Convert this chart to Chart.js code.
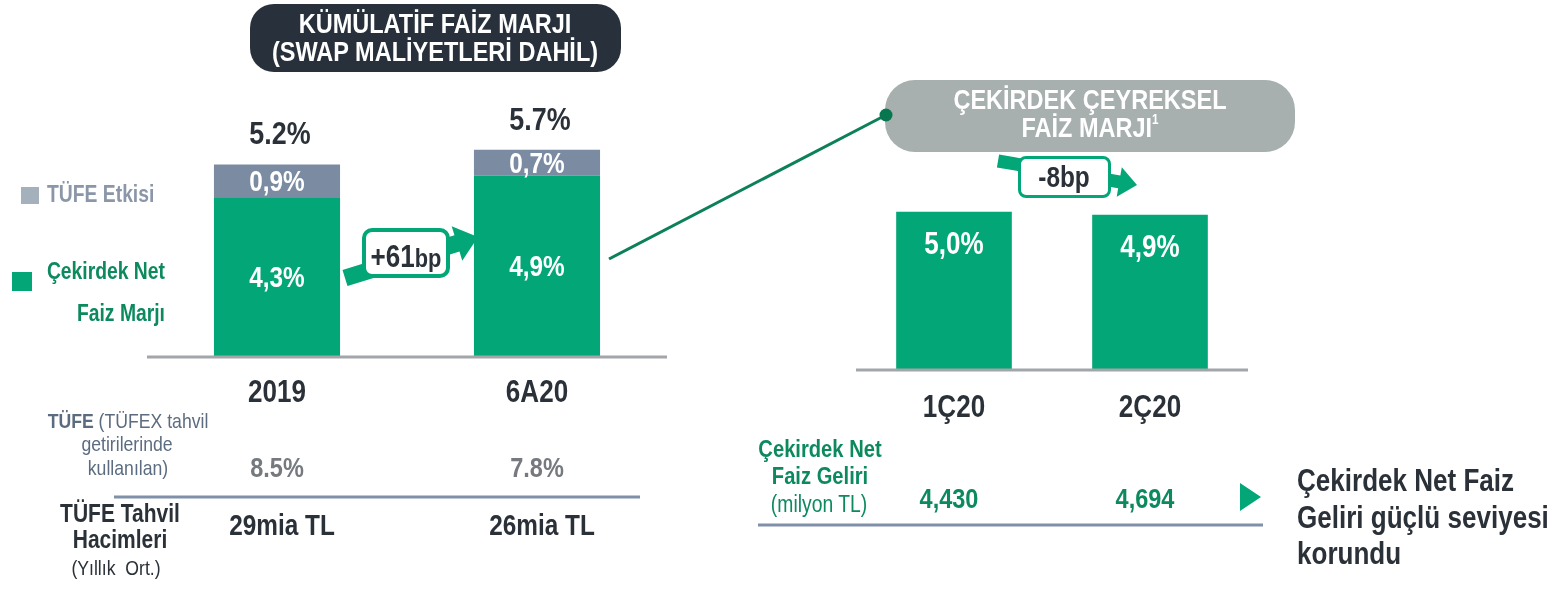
<!DOCTYPE html>
<html lang="tr">
<head>
<meta charset="utf-8">
<script src="https://cdn.jsdelivr.net/npm/chart.js@4.4.1/dist/chart.umd.min.js"></script>
<style>
  html, body { margin: 0; padding: 0; background: #fff; }
  #page { position: relative; width: 1568px; height: 592px; overflow: hidden; }
  #page canvas, #page svg { position: absolute; left: 0; top: 0; }
  .box { position: absolute; box-sizing: border-box; }
  .tx { position: absolute; white-space: nowrap; line-height: 1; font-weight: bold;
        font-family: "Liberation Sans", Arial, sans-serif; }
  .mid { transform-origin: 50% 50%; transform: translate(-50%, -50%) scaleX(0.84); }
  .lft { transform-origin: 0 50%; transform: translate(0, -50%) scaleX(0.84); }
  .rgt { transform-origin: 100% 50%; transform: translate(-100%, -50%) scaleX(0.84); }
  sup { font-size: 0.5em; vertical-align: 0.9em; }
</style>
</head>
<body>
<div id="page">
  <canvas id="nimChart" width="1568" height="592"></canvas>
  <canvas id="quarterChart" width="1568" height="592"></canvas>
</div>
<script>
// kümülatif faiz marjı (swap maliyetleri dahil)
const leftCats = ['2019', '6A20'];
const coreNim = [4.3, 4.9];
const cpiEffect = [0.9, 0.7];
const totalNim = [5.2, 5.7];
const cpiRate = [8.5, 7.8];
const cpiBondVol = [29, 26];

// çekirdek çeyreksel faiz marjı
const rightCats = ['1Ç20', '2Ç20'];
const quarterNim = [5.0, 4.9];
const coreNii = [4430, 4694];

const GREEN = '#02a677';
const SLATE = '#7b8ca2';
const AXIS = '#a2a5aa';
const DARK = '#2b3138';
const GREEN_TXT = '#0c8a5e';
const FONT = '"Liberation Sans", Arial, sans-serif';
const SQUEEZE = 0.84;

const trPct = v => v.toFixed(1).replace('.', ',') + '%';
const dotPct = v => v.toFixed(1) + '%';

function say(ctx, text, x, y, size, color) {
    ctx.save();
    ctx.translate(x, y);
    ctx.scale(SQUEEZE, 1);
    ctx.font = `bold ${size}px ${FONT}`;
    ctx.fillStyle = color;
    ctx.textAlign = 'center';
    ctx.textBaseline = 'middle';
    ctx.fillText(text, 0, 0);
    ctx.restore();
}

function baseline(chart) {
    const ctx = chart.ctx, area = chart.chartArea;
    const y0 = chart.scales.y.getPixelForValue(0);
    ctx.save();
    ctx.strokeStyle = AXIS;
    ctx.lineWidth = 3;
    ctx.beginPath();
    ctx.moveTo(area.left, y0);
    ctx.lineTo(area.right, y0);
    ctx.stroke();
    ctx.restore();
    return y0;
}

const nimLabels = {
    id: 'nimLabels',
    afterDatasetsDraw(chart) {
        const ctx = chart.ctx, x = chart.scales.x, y = chart.scales.y;
        const y0 = baseline(chart);
        chart.data.datasets.forEach((ds, i) => {
            chart.getDatasetMeta(i).data.forEach((bar, j) => {
                say(ctx, trPct(ds.data[j]), bar.x, (bar.y + bar.base) / 2 + 2, 29, '#fff');
            });
        });
        leftCats.forEach((c, j) => {
            const cx = x.getPixelForValue(j);
            say(ctx, dotPct(totalNim[j]), cx + 3, y.getPixelForValue(coreNim[j] + cpiEffect[j]) - 29, 32, DARK);
            say(ctx, c, cx, y0 + 36, 31, DARK);
            say(ctx, dotPct(cpiRate[j]), cx, y0 + 112, 28, '#767a7f');
            say(ctx, cpiBondVol[j] + 'mia TL', cx + 5, y0 + 170, 29, DARK);
        });
    }
};

const quarterLabels = {
    id: 'quarterLabels',
    afterDatasetsDraw(chart) {
        const ctx = chart.ctx, x = chart.scales.x;
        const y0 = baseline(chart);
        chart.getDatasetMeta(0).data.forEach((bar, j) => {
            say(ctx, trPct(quarterNim[j]), bar.x, bar.y + 34, 31, '#fff');
        });
        rightCats.forEach((c, j) => {
            const cx = x.getPixelForValue(j);
            say(ctx, c, cx, y0 + 38, 31, DARK);
            say(ctx, coreNii[j].toLocaleString('en-US'), cx - 5, y0 + 130, 28, GREEN_TXT);
        });
    }
};

const quiet = {
    responsive: false,
    animation: false,
    events: [],
    plugins: { legend: { display: false }, tooltip: { enabled: false } }
};

new Chart(document.getElementById('nimChart'), {
    type: 'bar',
    data: {
        labels: leftCats,
        datasets: [
            { label: 'Çekirdek Net Faiz Marjı', data: coreNim, backgroundColor: GREEN,
              barPercentage: 0.485, categoryPercentage: 1 },
            { label: 'TÜFE Etkisi', data: cpiEffect, backgroundColor: SLATE,
              barPercentage: 0.485, categoryPercentage: 1 }
        ]
    },
    options: {
        ...quiet,
        layout: { padding: { left: 147, right: 901, top: 135, bottom: 235 } },
        scales: {
            x: { stacked: true, display: false },
            y: { stacked: true, display: false, min: 0, max: 6 }
        }
    },
    plugins: [nimLabels]
});

new Chart(document.getElementById('quarterChart'), {
    type: 'bar',
    data: {
        labels: rightCats,
        datasets: [
            { label: 'Çekirdek Çeyreksel Faiz Marjı', data: quarterNim, backgroundColor: GREEN,
              barPercentage: 0.59, categoryPercentage: 1 }
        ]
    },
    options: {
        ...quiet,
        layout: { padding: { left: 856, right: 320, top: 180, bottom: 222 } },
        scales: {
            x: { display: false },
            y: { display: false, min: 0, max: 6 }
        }
    },
    plugins: [quarterLabels]
});

// slide decorations: arrows, boxes, separators, texts
const page = document.getElementById('page');
const NS = 'http://www.w3.org/2000/svg';

function svgLayer(parts) {
    const svg = document.createElementNS(NS, 'svg');
    svg.setAttribute('width', 1568);
    svg.setAttribute('height', 592);
    svg.innerHTML = parts.join('');
    page.appendChild(svg);
}

function arrow(x1, y1, x2, y2, w, hw, hl) {
    const dx = x2 - x1, dy = y2 - y1, len = Math.hypot(dx, dy);
    const ux = dx / len, uy = dy / len, nx = -uy, ny = ux;
    const bx = x2 - ux * hl, by = y2 - uy * hl;
    const pts = [
        [x1 + nx * w / 2, y1 + ny * w / 2], [bx + nx * w / 2, by + ny * w / 2],
        [bx + nx * hw / 2, by + ny * hw / 2], [x2, y2],
        [bx - nx * hw / 2, by - ny * hw / 2], [bx - nx * w / 2, by - ny * w / 2],
        [x1 - nx * w / 2, y1 - ny * w / 2]
    ];
    return `<polygon fill="${GREEN}" points="${pts.map(p => p.join(',')).join(' ')}"/>`;
}

function box(x, y, w, h, css) {
    const el = document.createElement('div');
    el.className = 'box';
    el.style.cssText = `left:${x}px;top:${y}px;width:${w}px;height:${h}px;${css}`;
    page.appendChild(el);
}

function put(html, x, y, size, color, align = 'mid', weight = 'bold') {
    const el = document.createElement('div');
    el.className = 'tx ' + align;
    el.style.left = x + 'px';
    el.style.top = y + 'px';
    el.style.fontSize = size + 'px';
    el.style.color = color;
    el.style.fontWeight = weight;
    el.innerHTML = html;
    page.appendChild(el);
}

svgLayer([
    arrow(345, 278, 478, 237, 17, 36, 22),
    arrow(998, 161, 1137, 185, 13, 30, 18),
    `<line x1="114" y1="497" x2="640" y2="497" stroke="#7f90a8" stroke-width="3"/>`,
    `<line x1="758" y1="525" x2="1263" y2="525" stroke="#7f90a8" stroke-width="3"/>`,
    `<polygon fill="${GREEN}" points="1240,483 1261,497 1240,511"/>`
]);

box(250, 4, 371, 68, 'background:#28313b;border-radius:24px;');
box(885, 80, 410, 72, 'background:#a7afaf;border-radius:30px;');
box(362, 228, 88, 50, `background:#fff;border:4px solid ${GREEN};border-radius:10px;`);
box(1018, 156, 93, 42, `background:#fff;border:3px solid ${GREEN};border-radius:8px;`);
box(21, 187, 18, 17, 'background:#a5b0bd;');
box(12, 272, 20, 19, `background:${GREEN};`);

svgLayer([
    `<line x1="609" y1="259" x2="886" y2="115" stroke="#0c8058" stroke-width="3"/>`,
    `<circle cx="886" cy="115" r="6.5" fill="#08764f"/>`
]);

put('KÜMÜLATİF FAİZ MARJI', 435, 24, 28, '#fff');
put('(SWAP MALİYETLERİ DAHİL)', 435, 52, 28, '#fff');
put('ÇEKİRDEK ÇEYREKSEL', 1090, 100, 28, '#fff');
put('FAİZ MARJI<sup>1</sup>', 1090, 127, 28, '#fff');
put('+61<span style="font-size:26px">bp</span>', 406, 256, 31, DARK);
put('-8bp', 1064, 177, 29, DARK);

put('TÜFE Etkisi', 47, 194, 23, '#8b97a8', 'lft');
put('Çekirdek Net', 165, 271, 23, GREEN_TXT, 'rgt');
put('Faiz Marjı', 165, 313, 23, GREEN_TXT, 'rgt');

put('<b>TÜFE</b> (TÜFEX tahvil', 128, 420, 21, '#5c6c80', 'mid', 'normal');
put('getirilerinde', 127, 443, 21, '#5c6c80', 'mid', 'normal');
put('kullanılan)', 128, 467, 21, '#5c6c80', 'mid', 'normal');
put('TÜFE Tahvil', 120, 513, 25, DARK);
put('Hacimleri', 120, 539, 25, DARK);
put('(Yıllık&nbsp; Ort.)', 116, 567, 21, DARK, 'mid', 'normal');

put('Çekirdek Net', 820, 449, 24, GREEN_TXT);
put('Faiz Geliri', 820, 476, 24, GREEN_TXT);
put('(milyon TL)', 819, 504, 23, GREEN_TXT, 'mid', 'normal');

put('Çekirdek Net Faiz', 1297, 480, 31, DARK, 'lft');
put('Geliri güçlü seviyesi', 1297, 517, 31, DARK, 'lft');
put('korundu', 1297, 553, 31, DARK, 'lft');
</script>
</body>
</html>
